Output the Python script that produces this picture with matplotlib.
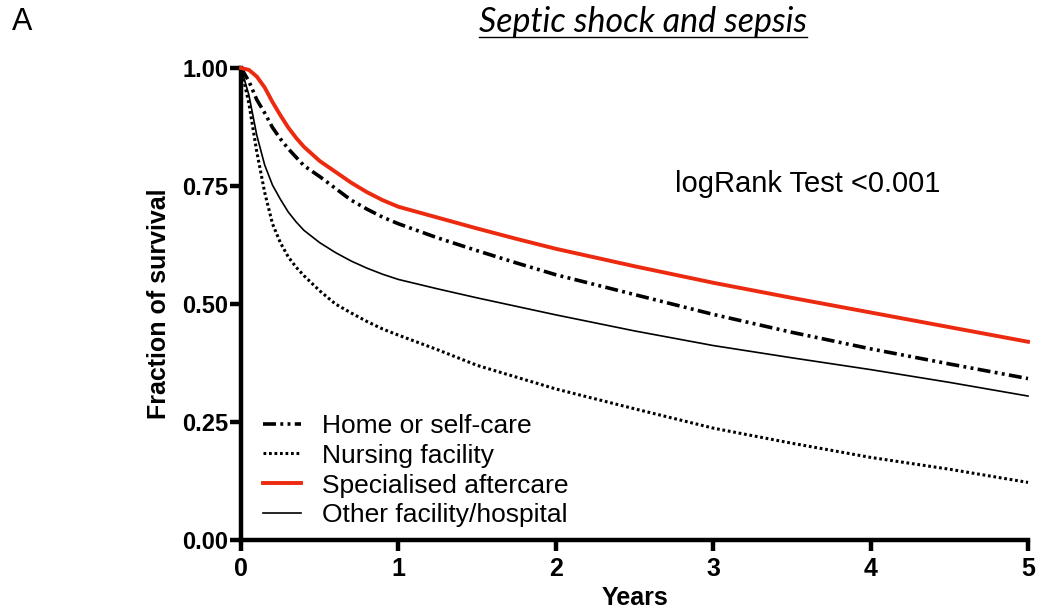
import numpy as np
import matplotlib
matplotlib.use("Agg")
import matplotlib.pyplot as plt
from matplotlib.lines import Line2D

# Survival curves (years, fraction surviving)
years = [0, 0.05, 0.1, 0.15, 0.2, 0.25, 0.3, 0.35, 0.4, 0.5, 0.6, 0.7, 0.8,
         0.9, 1.0, 1.25, 1.5, 1.75, 2.0, 2.5, 3.0, 3.5, 4.0, 4.5, 5.0]
home = [1.0, 0.972, 0.933, 0.905, 0.874, 0.85, 0.829, 0.811, 0.793, 0.77,
        0.745, 0.72, 0.701, 0.684, 0.67, 0.64, 0.613, 0.587, 0.562, 0.52,
        0.478, 0.44, 0.405, 0.373, 0.342]
nursing = [1.0, 0.925, 0.823, 0.737, 0.67, 0.63, 0.6, 0.578, 0.56, 0.528,
           0.5, 0.481, 0.463, 0.447, 0.434, 0.403, 0.37, 0.345, 0.32, 0.278,
           0.237, 0.205, 0.175, 0.15, 0.122]
special = [1.0, 0.996, 0.982, 0.959, 0.928, 0.9, 0.874, 0.852, 0.833, 0.803,
           0.78, 0.757, 0.737, 0.72, 0.706, 0.683, 0.66, 0.638, 0.617, 0.58,
           0.545, 0.513, 0.482, 0.451, 0.42]
other = [1.0, 0.943, 0.858, 0.795, 0.752, 0.722, 0.695, 0.674, 0.656, 0.63,
         0.609, 0.591, 0.576, 0.563, 0.552, 0.532, 0.513, 0.495, 0.477, 0.443,
         0.412, 0.386, 0.361, 0.334, 0.305]

labels = ["Home or self-care", "Nursing facility", "Specialised aftercare",
          "Other facility/hospital"]
xticks = [0, 1, 2, 3, 4, 5]
yticks = [0.0, 0.25, 0.5, 0.75, 1.0]

plt.rcParams['font.family'] = ['Liberation Sans', 'DejaVu Sans']

fig = plt.figure(figsize=(10.54, 6.12), dpi=100)
ax = fig.add_axes([241 / 1054, 72 / 612, 787 / 1054, 472 / 612])

ax.plot(years, home, color="black", lw=2.6,
        dashes=(3.6, 1.2, 0.8, 1.2, 0.8, 1.2), label=labels[0], clip_on=False)
ax.plot(years, nursing, color="black", lw=2.2, dashes=(0.9, 0.9),
        label=labels[1], clip_on=False)
ax.plot(years, special, color="#ec2a10", lw=2.8, label=labels[2],
        clip_on=False, zorder=3)
ax.plot(years, other, color="black", lw=1.2, label=labels[3], clip_on=False)

ax.set_xlim(0, 5)
ax.set_ylim(0, 1)
ax.set_xticks(xticks)
ax.set_yticks(yticks)
ax.set_yticklabels(["%.2f" % v for v in yticks])

for s in ["top", "right"]:
    ax.spines[s].set_visible(False)
for s in ["left", "bottom"]:
    ax.spines[s].set_linewidth(3.2)
ax.tick_params(width=3.2, length=8, direction="out")

for t in ax.get_xticklabels():
    t.set_fontweight("bold")
    t.set_fontsize(18)
for t in ax.get_yticklabels():
    t.set_fontweight("bold")
    t.set_fontsize(17)
ax.tick_params(axis="y", pad=1)
ax.tick_params(axis="x", pad=4)

ax.set_xlabel("Years", fontsize=18, fontweight="bold", labelpad=4)
ax.set_ylabel("Fraction of survival", fontsize=18, fontweight="bold", labelpad=8)

ax.text(0.551, 0.754, "logRank Test <0.001", transform=ax.transAxes,
        fontsize=21, ha="left", va="center")

leg = ax.legend(loc="lower left", bbox_to_anchor=(0.012, 0.0), frameon=False,
                fontsize=19, handlelength=1.45, handletextpad=0.8,
                labelspacing=0.22, borderaxespad=0.08)

fig.text(12 / 1054, 1 - 22 / 612, "A", fontsize=22, ha="left", va="center")
title = fig.text(643 / 1054, 1 - 22 / 612, "Septic shock and sepsis",
                 fontsize=24.5, style="italic", family=["Lato", "DejaVu Sans"],
                 ha="center", va="center")
fig.canvas.draw()
bb = title.get_window_extent().transformed(fig.transFigure.inverted())
fig.add_artist(Line2D([bb.x0, bb.x1], [bb.y0 + 0.002, bb.y0 + 0.002],
                      transform=fig.transFigure, color="black", lw=1.0))

fig.savefig("out.png", dpi=100)
